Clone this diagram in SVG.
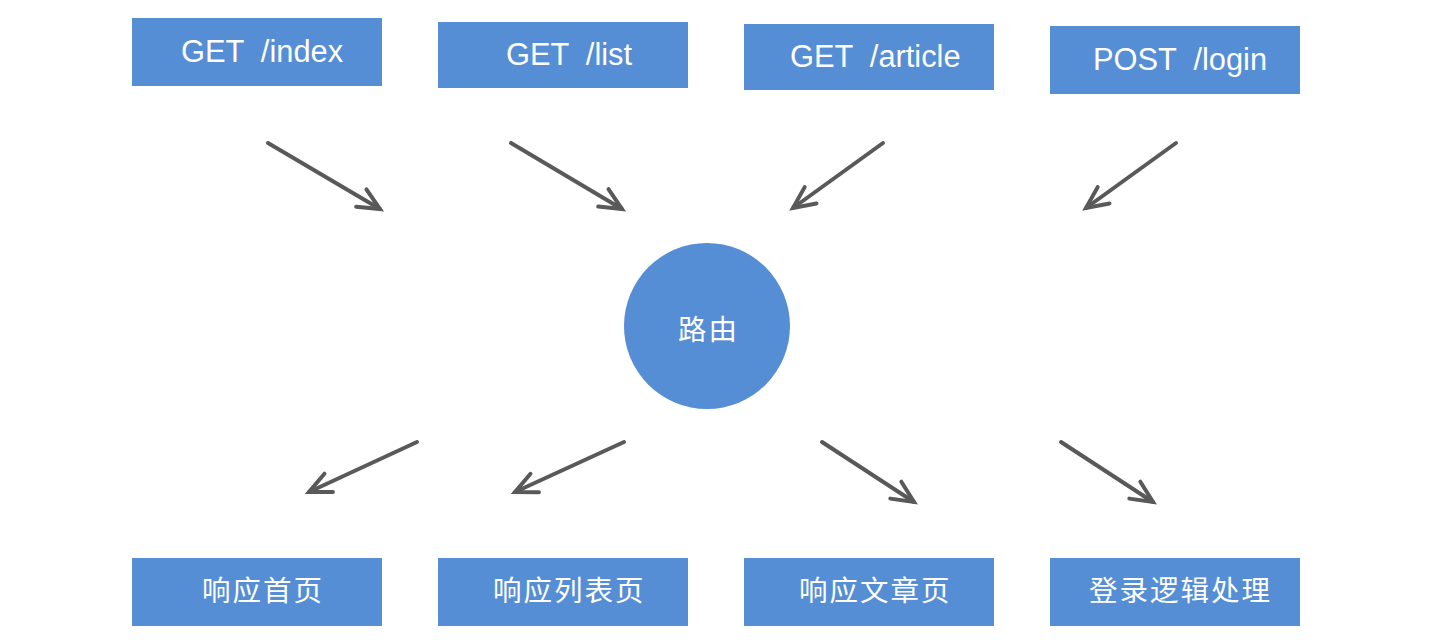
<svg xmlns="http://www.w3.org/2000/svg" width="1444" height="640" viewBox="0 0 1444 640">
<style>
.box{fill:#558ED5;}
.lbl{fill:#ffffff;font-family:"Liberation Sans",Arial,sans-serif;font-size:30.8px;}
.cjk{fill:#ffffff;font-family:"Noto Sans CJK SC","Liberation Sans",sans-serif;font-size:28.5px;letter-spacing:2px;}
.conn line{stroke:#595959;stroke-width:4;stroke-linecap:round;marker-end:url(#ah);}
</style>
<defs>
<marker id="ah" markerUnits="userSpaceOnUse" orient="auto" refX="0" refY="0" markerWidth="40" markerHeight="40" viewBox="-30 -20 40 40" overflow="visible">
<path d="M -21.7 -10.1 L 0 0 L -21.7 10.1" fill="none" stroke="#595959" stroke-width="4" stroke-linecap="round" stroke-linejoin="miter"/>
</marker>
</defs>
<rect width="1444" height="640" fill="#ffffff"/>
<g id="n-index"><rect class="box" x="132" y="18" width="250" height="68"/><text class="lbl" x="181" y="62" xml:space="preserve">GET  /index</text></g>
<g id="n-list"><rect class="box" x="438" y="22" width="250" height="66"/><text class="lbl" x="506" y="65" xml:space="preserve">GET  /list</text></g>
<g id="n-article"><rect class="box" x="744" y="24" width="250" height="66"/><text class="lbl" x="790" y="67" xml:space="preserve">GET  /article</text></g>
<g id="n-login"><rect class="box" x="1050" y="26" width="250" height="68"/><text class="lbl" x="1093" y="70" xml:space="preserve">POST  /login</text></g>
<g id="n-router"><circle class="box" cx="707" cy="326" r="83"/><text class="cjk" x="678" y="340">路由</text></g>
<g id="n-home"><rect class="box" x="132" y="558" width="250" height="68"/><text class="cjk" x="202" y="601">响应首页</text></g>
<g id="n-listpage"><rect class="box" x="438" y="558" width="250" height="68"/><text class="cjk" x="493" y="601">响应列表页</text></g>
<g id="n-articlepage"><rect class="box" x="744" y="558" width="250" height="68"/><text class="cjk" x="799" y="601">响应文章页</text></g>
<g id="n-loginlogic"><rect class="box" x="1050" y="558" width="250" height="68"/><text class="cjk" x="1089" y="601">登录逻辑处理</text></g>
<g id="connectors" class="conn">
<line x1="268" y1="143" x2="380" y2="209"/>
<line x1="511" y1="143" x2="622" y2="209"/>
<line x1="883" y1="143" x2="793" y2="208"/>
<line x1="1176" y1="143" x2="1086" y2="208"/>
<line x1="417" y1="442" x2="309" y2="492"/>
<line x1="624" y1="442" x2="515" y2="492"/>
<line x1="822" y1="442" x2="914" y2="502"/>
<line x1="1061" y1="442" x2="1153" y2="502"/>
</g>
</svg>
